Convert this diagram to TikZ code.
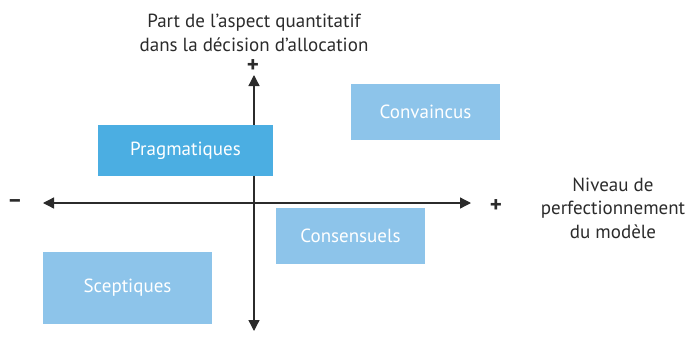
\documentclass[tikz,border=0pt]{standalone}
\usepackage{fontspec}
\setmainfont{PT Sans}
\usetikzlibrary{arrows.meta}
\definecolor{strongblue}{HTML}{4BAEE2}
\definecolor{paleblue}{HTML}{8DC4EA}
\definecolor{axisgray}{HTML}{2B2B2B}
\tikzset{
  profile/.style={fill=paleblue, text=white, inner sep=0pt, font=\fontsize{19}{24}\selectfont},
  caption/.style={align=center, text=axisgray, font=\fontsize{19}{23.5}\selectfont},
  sign/.style={text=axisgray, font=\bfseries\fontsize{23}{23}\selectfont},
  axis/.style={draw=axisgray, line width=1.3pt, {Triangle[length=11pt,width=11pt]}-{Triangle[length=11pt,width=11pt]}},
}
\begin{document}
\begin{tikzpicture}[x=1pt, y=-1pt]
\useasboundingbox (0,0) rectangle (691,338);

% Axes ends
\coordinate (west) at (43,203);
\coordinate (east) at (471,203);
\coordinate (north) at (254,75);
\coordinate (south) at (254,331);

% Draw the two axes
\draw[axis] (west) -- (east);
\draw[axis] (south) -- (north);

% Axis labels
\node[caption] (quanti) at (254,33) {Part de l’aspect quantitatif\\dans la décision d’allocation};
\node[caption] (perfect) at (613,208) {Niveau de\\perfectionnement\\du modèle};
\node[sign] (plusy) at (253,66) {+};
\node[sign] (plusx) at (496,206) {+};
\node[sign] (minusx) at (15,204) {–};

% Profiles, one in each quarter
\node[profile, fill=strongblue, minimum width=175pt, minimum height=51pt] (pragma) at (185.5,150.5) {Pragmatiques};
\node[profile, minimum width=149pt, minimum height=56pt] (convain) at (425.5,112) {Convaincus};
\node[profile, minimum width=149pt, minimum height=56pt] (consens) at (350.5,236) {Consensuels};
\node[profile, minimum width=169pt, minimum height=72pt] (scept) at (127.5,288) {Sceptiques};

\end{tikzpicture}
\end{document}
